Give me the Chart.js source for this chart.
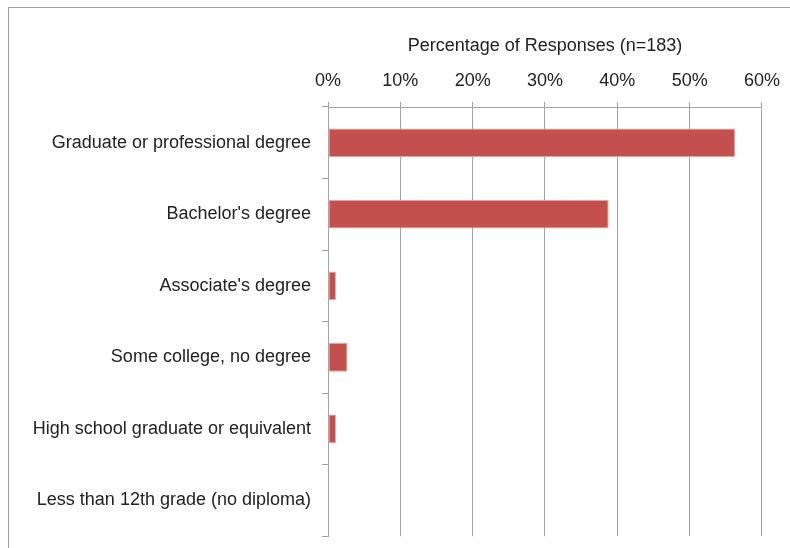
<!DOCTYPE html>
<html>
<head>
<meta charset="utf-8">
<script src="https://cdn.jsdelivr.net/npm/chart.js@4/dist/chart.umd.min.js"></script>
<style>
  html, body { margin: 0; padding: 0; background: #fff; }
  body { width: 790px; height: 548px; position: relative; overflow: hidden; }
  .frame {
    position: absolute; left: 8px; top: 7px; width: 800px; height: 560px;
    border-left: 1.5px solid #a0a0a0; border-top: 1.5px solid #a0a0a0;
  }
  #chart { position: absolute; left: 0; top: 0; }
</style>
</head>
<body>
<div class="frame"></div>
<!-- taller than the page so the reserved label space below the plot is clipped -->
<canvas id="chart" width="790" height="558"></canvas>
<script>
const categories = [
  "Graduate or professional degree",
  "Bachelor's degree",
  "Associate's degree",
  "Some college, no degree",
  "High school graduate or equivalent",
  "Less than 12th grade (no diploma)",
];
const responses = [56.3, 38.8, 1.1, 2.7, 1.1, 0];
const percentTicks = [0, 10, 20, 30, 40, 50, 60];
const axisTitle = "Percentage of Responses (n=183)";

const font = { family: "'Liberation Sans', Arial, sans-serif", size: 18 };
const lineColor = "#a3a3a3";

new Chart(document.getElementById("chart"), {
  type: "bar",
  data: {
    labels: categories,
    datasets: [
      {
        data: responses,
        backgroundColor: "#c4504e",
        borderColor: "#e3a3a2",
        borderWidth: (ctx) => (ctx.raw > 0 ? 1 : 0),
        borderSkipped: false,
        barPercentage: 0.4,
        categoryPercentage: 1,
      },
    ],
  },
  options: {
    indexAxis: "y",
    responsive: false,
    animation: false,
    layout: { padding: { top: 0, right: 28, bottom: 0, left: 0 } },
    scales: {
      x: {
        position: "top",
        min: 0,
        max: 60,
        afterBuildTicks: (scale) => {
          scale.ticks = percentTicks.map((v) => ({ value: v }));
        },
        afterFit: (scale) => {
          scale.height = 107;
        },
        ticks: {
          color: "#222",
          font,
          padding: 10,
          callback: (v) => v + "%",
        },
        grid: { color: lineColor, lineWidth: 1, tickLength: 5 },
        border: { color: lineColor, width: 1 },
        title: {
          display: true,
          text: axisTitle,
          color: "#222",
          font,
          padding: { top: 35, bottom: 0 },
        },
      },
      y: {
        afterFit: (scale) => {
          scale.width = 328;
        },
        ticks: { color: "#222", font, padding: 11 },
        grid: { color: lineColor, drawOnChartArea: false, tickLength: 6 },
        border: { color: lineColor, width: 1 },
      },
    },
    plugins: {
      legend: { display: false },
      tooltip: { enabled: false },
    },
  },
});
</script>
</body>
</html>
